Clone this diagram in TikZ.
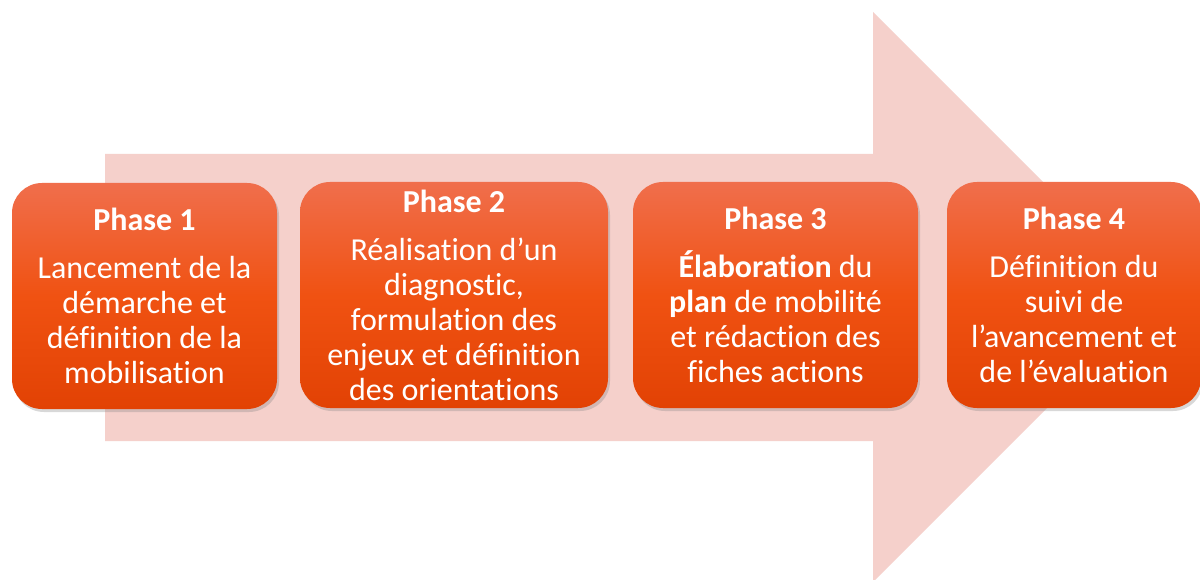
\documentclass[tikz,border=0pt]{standalone}
\usepackage{fontspec}
\setmainfont[Ligatures={NoCommon}]{Carlito}
\usetikzlibrary{shadows}
\definecolor{arrowpink}{RGB}{245,208,203}
\definecolor{boxtop}{RGB}{240,110,76}
\definecolor{boxmid}{RGB}{240,82,18}
\definecolor{boxbot}{RGB}{226,66,4}
\tikzset{
  phasebox/.style={rounded corners=30pt, minimum height=226pt,
    top color=boxtop, bottom color=boxbot, middle color=boxmid,
    drop shadow={opacity=0.3, shadow xshift=2pt, shadow yshift=-3pt},
    text=white, align=center, inner sep=0pt,
    font=\fontsize{32}{35}\selectfont},
}
\newcommand{\ptitle}[1]{\textbf{#1}\\[13pt]}
\begin{document}
\begin{tikzpicture}[x=1pt,y=-1pt]
\useasboundingbox (0,0) rectangle (1200,580);
\fill[white] (0,0) rectangle (1200,580);
\fill[arrowpink] (105,154) -- (873,154) -- (873,12) -- (1158,297) -- (873,582) -- (873,441) -- (105,441) -- cycle;
\node[phasebox, minimum width=265pt] (p1) at (144.5,296)
  {\ptitle{Phase 1}Lancement de la\\démarche et\\définition de la\\mobilisation};
\node[phasebox, minimum width=308pt] (p2) at (454,295)
  {\ptitle{Phase 2}Réalisation d’un\\diagnostic,\\formulation des\\enjeux et définition\\des orientations};
\node[phasebox, minimum width=285pt] (p3) at (775.5,295)
  {\ptitle{Phase 3}\textbf{Élaboration} du\\\textbf{plan} de mobilité\\et rédaction des\\fiches actions};
\node[phasebox, minimum width=254pt] (p4) at (1074,295)
  {\ptitle{Phase 4}Définition du\\suivi de\\l’avancement et\\de l’évaluation};
\end{tikzpicture}
\end{document}
